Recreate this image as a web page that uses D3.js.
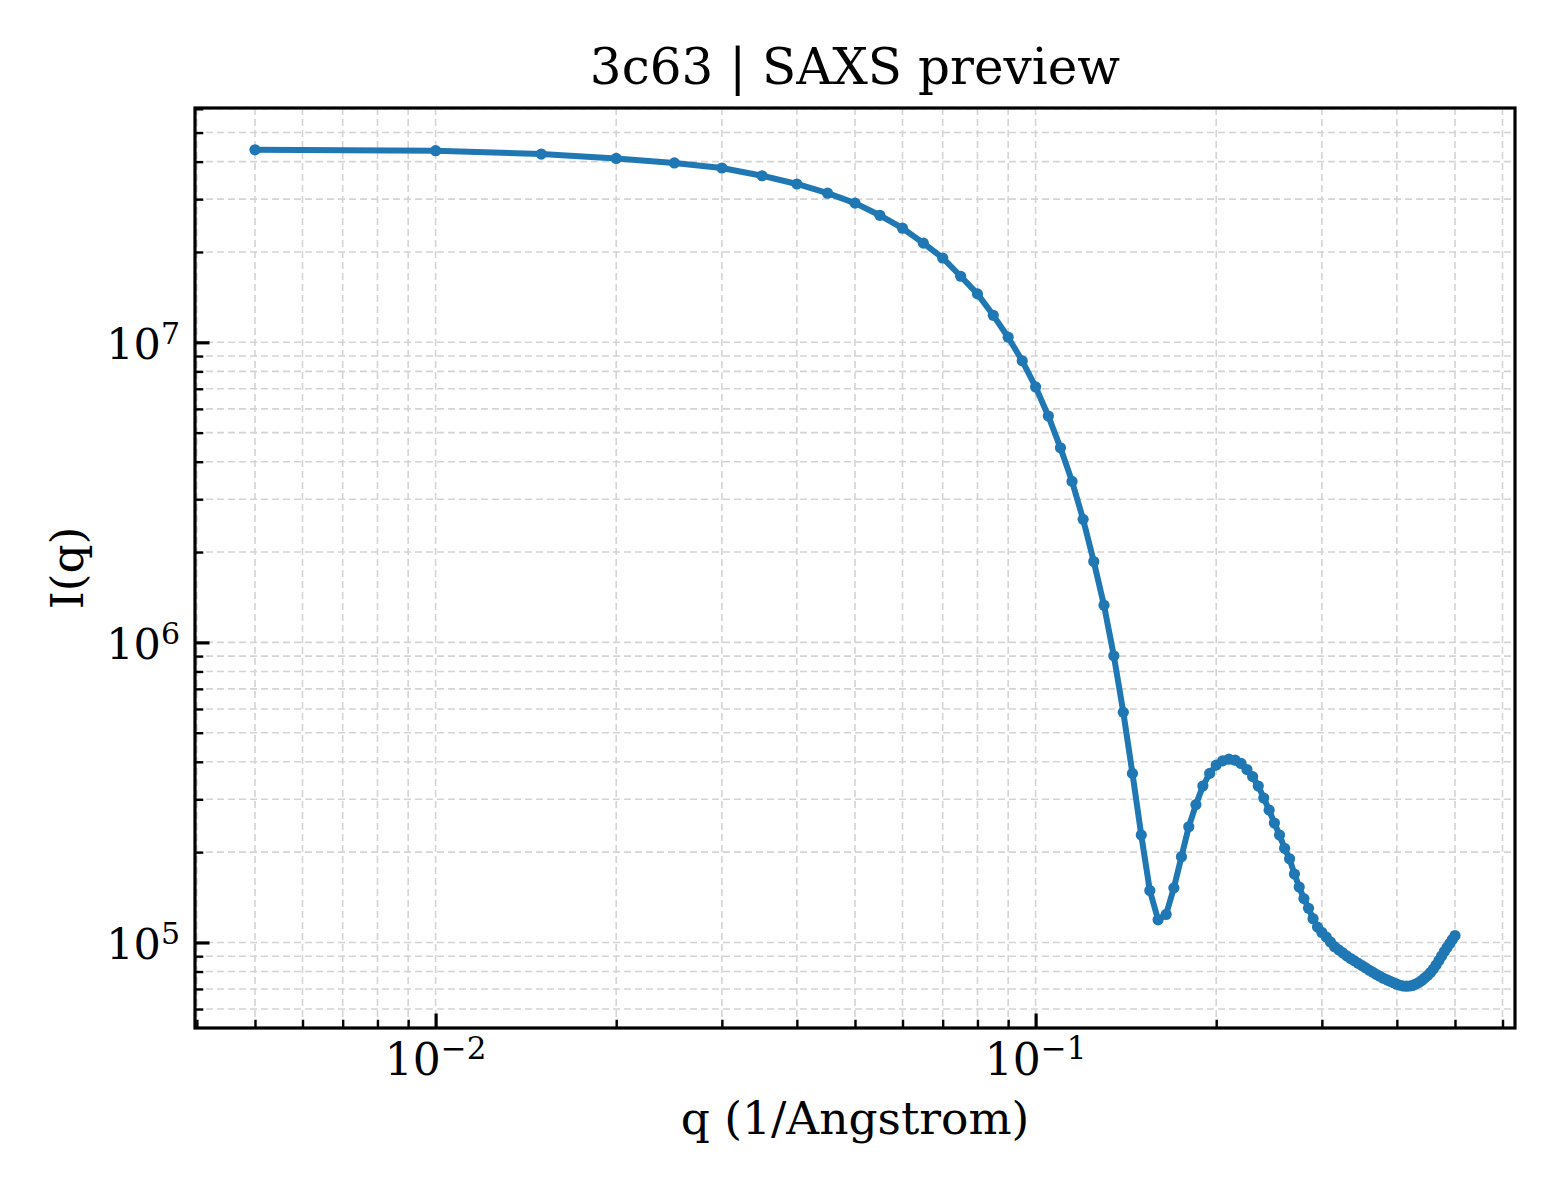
<!DOCTYPE html>
<html>
<head>
<meta charset="utf-8">
<script src="https://cdn.jsdelivr.net/npm/d3@7"></script>
<style>
  body { margin: 0; background: #fff; }
  text { font-family: "DejaVu Serif", serif; fill: #000; }
</style>
</head>
<body>
<div class="chart"></div>
<script>
// scattering vector q (1/Angstrom)
var qValues = [
  0.005, 0.010, 0.015, 0.020, 0.025, 0.030, 0.035, 0.040, 0.045, 0.050,
  0.055, 0.060, 0.065, 0.070, 0.075, 0.080, 0.085, 0.090, 0.095, 0.100,
  0.105, 0.110, 0.115, 0.120, 0.125, 0.130, 0.135, 0.140, 0.145, 0.150,
  0.155, 0.160, 0.165, 0.170, 0.175, 0.180, 0.185, 0.190, 0.195, 0.200,
  0.205, 0.210, 0.215, 0.220, 0.225, 0.230, 0.235, 0.240, 0.245, 0.250,
  0.255, 0.260, 0.265, 0.270, 0.275, 0.280, 0.285, 0.290, 0.295, 0.300,
  0.305, 0.310, 0.315, 0.320, 0.325, 0.330, 0.335, 0.340, 0.345, 0.350,
  0.355, 0.360, 0.365, 0.370, 0.375, 0.380, 0.385, 0.390, 0.395, 0.400,
  0.405, 0.410, 0.415, 0.420, 0.425, 0.430, 0.435, 0.440, 0.445, 0.450,
  0.455, 0.460, 0.465, 0.470, 0.475, 0.480, 0.485, 0.490, 0.495, 0.500
];

// intensity I(q)
var intensity = [
  4.38e7, 4.35e7, 4.24e7, 4.10e7, 3.96e7, 3.81e7, 3.59e7, 3.37e7, 3.14e7, 2.91e7,
  2.65e7, 2.40e7, 2.14e7, 1.91e7, 1.66e7, 1.45e7, 1.23e7, 1.04e7, 8.67e6, 7.10e6,
  5.68e6, 4.45e6, 3.44e6, 2.57e6, 1.86e6, 1.33e6, 9.02e5, 5.85e5, 3.66e5, 2.28e5,
  1.49e5, 1.19e5, 1.24e5, 1.52e5, 1.93e5, 2.43e5, 2.88e5, 3.32e5, 3.66e5, 3.90e5,
  4.03e5, 4.08e5, 4.05e5, 3.95e5, 3.77e5, 3.57e5, 3.32e5, 3.03e5, 2.76e5, 2.50e5,
  2.28e5, 2.06e5, 1.90e5, 1.69e5, 1.53e5, 1.40e5, 1.30e5, 1.20e5, 1.125e5, 1.08e5,
  1.043e5, 1.004e5, 9.68e4, 9.45e4, 9.23e4, 9.02e4, 8.84e4, 8.68e4, 8.52e4, 8.37e4,
  8.23e4, 8.08e4, 7.95e4, 7.82e4, 7.71e4, 7.60e4, 7.51e4, 7.42e4, 7.34e4, 7.26e4,
  7.20e4, 7.16e4, 7.15e4, 7.16e4, 7.19e4, 7.27e4, 7.35e4, 7.47e4, 7.61e4, 7.76e4,
  7.94e4, 8.15e4, 8.41e4, 8.71e4, 9.01e4, 9.33e4, 9.62e4, 9.92e4, 1.023e5, 1.055e5
];

// labelled decades
var xMajorTicks = [0.01, 0.1];
var yMajorTicks = [1e5, 1e6, 1e7];
var xTickExp = ["\u22122", "\u22121"];
var yTickExp = ["5", "6", "7"];

var titleText = "3c63 | SAXS preview";
var xLabelText = "q (1/Angstrom)";
var yLabelText = "I(q)";

var svgWidth = 1560;
var svgHeight = 1200;

var margin = { top: 108, right: 45, bottom: 172, left: 195 };
var width = svgWidth - margin.left - margin.right;
var height = svgHeight - margin.top - margin.bottom;

var data = qValues.map(function(q, i) {
  return { q: q, I: intensity[i] };
});

var svg = d3.select(".chart")
  .append("svg")
  .attr("width", svgWidth)
  .attr("height", svgHeight);

var chartGroup = svg.append("g")
  .attr("transform", `translate(${margin.left}, ${margin.top})`);

// matplotlib-like 5% padding in log space
function logDomain(values) {
  var lo = Math.log10(d3.min(values));
  var hi = Math.log10(d3.max(values));
  var pad = (hi - lo) * 0.05;
  return [Math.pow(10, lo - pad), Math.pow(10, hi + pad)];
}

var xLogScale = d3.scaleLog()
  .domain(logDomain(qValues))
  .range([0, width]);

var yLogScale = d3.scaleLog()
  .domain(logDomain(intensity))
  .range([height, 0]);

// minor ticks inside the domain: 2..9 x 10^k
function minorTicks(scale) {
  var dom = scale.domain();
  var out = [];
  for (var k = Math.floor(Math.log10(dom[0])); k <= Math.ceil(Math.log10(dom[1])); k++) {
    for (var m = 2; m <= 9; m++) {
      var v = m * Math.pow(10, k);
      if (v >= dom[0] && v <= dom[1]) out.push(v);
    }
  }
  return out;
}

var xMinor = minorTicks(xLogScale);
var yMinor = minorTicks(yLogScale);

// grid, major + minor, dashed
var grid = chartGroup.append("g").attr("class", "grid");
grid.selectAll(".vgrid")
  .data(xMajorTicks.concat(xMinor))
  .enter()
  .append("line")
  .attr("x1", d => xLogScale(d))
  .attr("x2", d => xLogScale(d))
  .attr("y1", 0)
  .attr("y2", height)
  .attr("stroke", "#d4d4d4")
  .attr("stroke-width", 1.6)
  .attr("stroke-dasharray", "7,4");

grid.selectAll(".hgrid")
  .data(yMajorTicks.concat(yMinor))
  .enter()
  .append("line")
  .attr("x1", 0)
  .attr("x2", width)
  .attr("y1", d => yLogScale(d))
  .attr("y2", d => yLogScale(d))
  .attr("stroke", "#d4d4d4")
  .attr("stroke-width", 1.6)
  .attr("stroke-dasharray", "7,4");

// the curve
var line = d3.line()
  .x(d => xLogScale(d.q))
  .y(d => yLogScale(d.I));

chartGroup.append("path")
  .datum(data)
  .attr("fill", "none")
  .attr("stroke", "#1f77b4")
  .attr("stroke-width", 6)
  .attr("stroke-linejoin", "round")
  .attr("d", line);

chartGroup.selectAll("circle")
  .data(data)
  .enter()
  .append("circle")
  .attr("cx", d => xLogScale(d.q))
  .attr("cy", d => yLogScale(d.I))
  .attr("r", 5.6)
  .attr("fill", "#1f77b4");

// axes with inward ticks, labels drawn separately
var bottomMajor = d3.axisBottom(xLogScale).tickValues(xMajorTicks).tickSize(-14.5).tickFormat("");
var bottomMinor = d3.axisBottom(xLogScale).tickValues(xMinor).tickSize(-8.3).tickFormat("");
var leftMajor = d3.axisLeft(yLogScale).tickValues(yMajorTicks).tickSize(-14.5).tickFormat("");
var leftMinor = d3.axisLeft(yLogScale).tickValues(yMinor).tickSize(-8.3).tickFormat("");

function styleAxis(g, w) {
  g.select(".domain").remove();
  g.selectAll(".tick line").attr("stroke", "#000").attr("stroke-width", w);
}

chartGroup.append("g").attr("transform", `translate(0, ${height})`).call(bottomMajor).call(styleAxis, 3.2);
chartGroup.append("g").attr("transform", `translate(0, ${height})`).call(bottomMinor).call(styleAxis, 2.4);
chartGroup.append("g").call(leftMajor).call(styleAxis, 3.2);
chartGroup.append("g").call(leftMinor).call(styleAxis, 2.4);

// frame
chartGroup.append("rect")
  .attr("width", width)
  .attr("height", height)
  .attr("fill", "none")
  .attr("stroke", "#000")
  .attr("stroke-width", 3.2);

// tick labels with superscripts
var xLabels = chartGroup.selectAll(".xtick-label")
  .data(xMajorTicks)
  .enter()
  .append("text")
  .attr("class", "xtick-label")
  .attr("x", d => xLogScale(d))
  .attr("y", height + 47)
  .attr("text-anchor", "middle")
  .attr("font-size", "44px");
xLabels.append("tspan").text("10");
xLabels.append("tspan")
  .attr("dy", -16)
  .attr("font-size", "31px")
  .text((d, i) => xTickExp[i]);

var yLabels = chartGroup.selectAll(".ytick-label")
  .data(yMajorTicks)
  .enter()
  .append("text")
  .attr("class", "ytick-label")
  .attr("x", -15)
  .attr("y", d => yLogScale(d) + 17)
  .attr("text-anchor", "end")
  .attr("font-size", "43px");
yLabels.append("tspan").text("10");
yLabels.append("tspan")
  .attr("dy", -15)
  .attr("font-size", "30px")
  .text((d, i) => yTickExp[i]);

// title and axis titles
chartGroup.append("text")
  .attr("x", width / 2)
  .attr("y", -24)
  .attr("text-anchor", "middle")
  .attr("font-size", "50px")
  .text(titleText);

chartGroup.append("text")
  .attr("x", width / 2)
  .attr("y", height + 106)
  .attr("text-anchor", "middle")
  .attr("font-size", "45.5px")
  .text(xLabelText);

chartGroup.append("text")
  .attr("transform", "rotate(-90)")
  .attr("x", -height / 2)
  .attr("y", 83 - margin.left)
  .attr("text-anchor", "middle")
  .attr("font-size", "45.5px")
  .text(yLabelText);
</script>
</body>
</html>
